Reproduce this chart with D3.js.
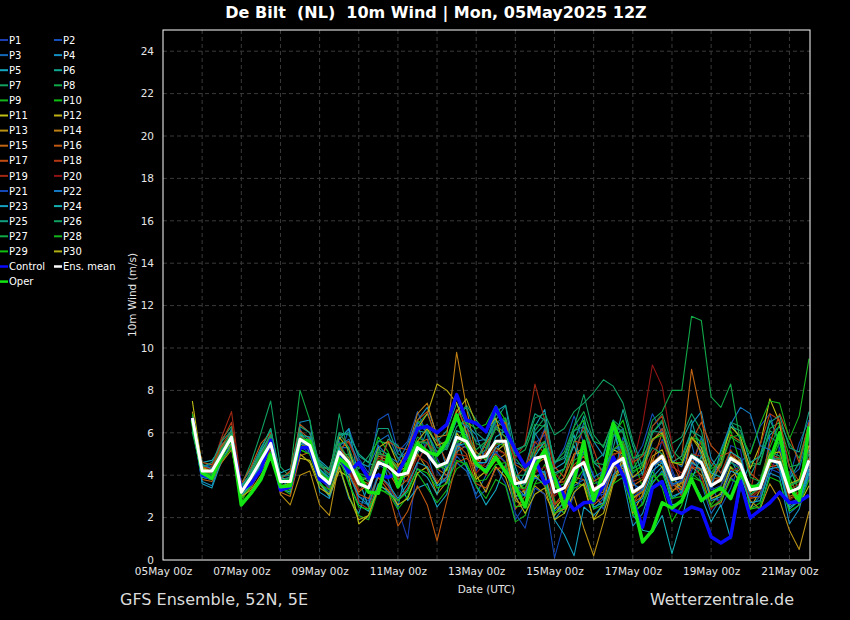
<!DOCTYPE html>
<html>
<head>
<meta charset="utf-8">
<script src="https://cdn.jsdelivr.net/npm/d3@7"></script>
<style>
  body { margin: 0; background: #000; }
  svg { display: block; font-family: "DejaVu Sans", sans-serif; }
</style>
</head>
<body>
<svg id="chart" width="850" height="620"></svg>
<script>
// run 05May2025 12Z, first step +6h, every 6h up to 21May 12Z
const firstStep = Date.UTC(2025, 4, 5, 18);
const stepHours = 6;
const yTicks = [0, 2, 4, 6, 8, 10, 12, 14, 16, 18, 20, 22, 24];

const p1 = [6.5,4.0,3.9,5.2,6.0,3.4,3.6,4.5,5.9,3.2,3.5,5.4,5.8,3.6,3.2,5.6, 4.2,3.0,2.8,4.1,3.5,2.4,1.0,4.6,5.6,4.8,3.9,5.2,6.1,4.2,5.3,6.4, 5.2,2.8,3.1,5.5,5.9,2.6,2.2,3.6,5.1,4.0,2.8,3.9,5.6,3.8,2.6,3.8, 5.7,4.3,3.1,4.2,5.3,2.9,2.8,5.4,5.2,2.6,2.4,4.0,5.3,3.6,2.7,3.9];
const p2 = [6.3,4.4,4.5,5.5,5.6,3.0,4.1,5.0,5.2,3.9,4.0,6.2,5.1,4.3,3.9,4.8, 6.2,4.8,4.1,6.6,6.9,5.1,5.6,7.0,5.9,4.2,3.6,4.9,4.4,2.9,3.3,4.4, 3.6,1.9,2.6,5.1,6.2,4.5,5.3,6.8,5.5,3.2,2.4,3.9,5.8,4.6,5.4,6.9, 6.0,4.1,3.1,4.4,5.8,3.6,2.5,3.4,4.6,5.1,6.3,6.9,5.2,3.9,5.5,6.6];
const p3 = [6.9,4.1,4.0,4.8,5.9,3.3,3.7,4.9,5.7,3.5,3.6,5.9,5.5,4.1,3.3,5.3, 5.3,2.8,2.6,5.6,5.9,4.8,5.1,6.4,5.0,3.5,3.8,4.6,4.2,3.1,4.0,4.8, 6.7,4.6,4.4,6.0,5.2,2.2,2.4,3.5,3.8,2.4,2.9,5.8,6.2,3.9,4.1,5.6, 6.2,4.7,4.4,5.5,3.6,2.2,2.9,3.9,3.4,2.5,3.0,5.8,5.5,3.9,4.3,5.9];
const p4 = [6.6,3.7,3.5,4.9,6.2,3.6,4.3,5.3,6.1,3.9,3.3,6.5,6.6,3.2,2.9,4.4, 2.9,2.2,3.6,5.4,3.8,2.5,4.6,6.6,7.2,5.9,4.3,5.0,6.4,5.9,4.6,7.0, 7.3,4.4,3.1,3.9,4.2,1.9,2.5,4.8,6.5,5.6,4.9,6.6,3.8,1.6,2.2,3.6, 4.2,2.9,3.2,6.4,7.0,4.8,4.1,4.8,3.8,1.9,2.4,4.1,3.9,1.7,2.4,4.1];
const p5 = [6.4,4.6,4.7,5.3,5.5,2.9,3.5,4.4,5.3,4.1,4.3,6.1,5.0,4.7,4.3,5.7, 6.2,3.8,2.5,3.2,4.6,3.9,2.8,3.4,3.6,2.5,3.1,5.7,4.4,3.5,2.6,3.3, 4.5,3.2,4.1,6.3,7.1,4.3,4.6,5.9,4.0,2.9,4.4,6.2,4.6,2.1,1.6,3.9, 4.4,2.6,2.7,3.8,3.0,1.8,2.6,1.0,3.4,4.6,4.9,5.9,6.3,4.4,3.2,5.2];
const p6 = [6.1,4.3,4.4,5.4,5.9,3.0,3.8,4.6,5.4,3.8,3.9,6.0,5.3,4.6,4.2,6.0, 5.9,5.0,4.6,4.3,5.7,5.4,4.3,5.0,6.1,5.6,6.1,7.4,6.4,4.7,5.6,6.9, 6.5,3.3,3.6,5.9,6.4,3.5,3.9,5.6,6.8,4.6,4.2,5.3,7.1,5.4,4.0,6.0, 6.5,4.8,5.6,6.6,4.9,3.5,4.6,6.5,5.7,4.0,4.9,6.6,5.6,3.8,4.6,6.4];
const p7 = [6.2,4.5,4.3,5.7,6.3,3.5,4.6,6.0,7.5,4.4,3.9,6.4,6.0,4.6,3.8,6.9, 4.9,4.3,4.9,5.6,5.5,4.8,4.4,6.4,6.9,5.7,5.3,6.7,7.3,6.6,6.0,6.9, 6.4,4.8,4.2,6.1,6.7,4.6,4.9,6.3,7.8,5.9,5.3,6.6,6.2,4.3,5.0,6.3, 6.9,5.5,5.8,6.9,6.1,4.1,4.8,6.5,6.3,4.6,4.5,6.1,5.8,4.4,4.5,6.2];
const p8 = [6.0,4.1,4.2,5.1,5.7,3.1,4.2,5.2,6.2,3.9,4.1,8.0,6.6,4.3,3.4,4.9, 5.0,4.1,3.9,5.1,4.8,4.3,4.6,5.8,5.5,4.9,5.4,6.6,6.0,5.2,5.6,6.5, 6.7,4.9,5.2,6.4,6.3,4.6,5.1,6.3,7.0,5.6,5.4,6.5,6.0,4.1,4.5,6.0, 6.6,5.2,4.7,6.1,5.5,3.8,4.4,5.8,5.5,4.4,4.6,6.2,6.5,5.5,4.8,6.4];
const p9 = [6.8,3.9,3.8,4.7,5.4,2.7,3.7,4.8,5.8,3.4,3.1,5.2,5.0,3.7,3.1,4.5, 3.0,2.1,1.9,3.3,3.2,2.4,3.0,4.1,3.4,2.7,3.3,4.3,4.6,3.5,2.9,3.8, 3.5,1.8,2.1,3.6,4.5,3.5,4.3,6.1,6.6,4.4,3.3,4.4,4.2,2.1,2.7,4.0, 3.6,2.4,2.8,4.1,3.7,2.6,3.2,4.4,4.0,3.0,3.8,5.3,6.4,4.9,3.1,4.6];
const p10 = [6.5,4.3,4.4,5.3,5.9,3.4,3.8,4.5,5.1,3.6,3.8,5.5,5.2,4.1,3.9,5.5, 5.6,4.6,4.4,5.8,5.1,3.9,4.9,6.6,6.1,4.6,4.2,5.4,6.5,6.2,6.4,7.3, 6.6,3.9,3.3,5.1,5.4,2.8,2.2,3.6,4.3,2.7,3.4,5.9,6.6,4.9,3.4,4.2, 3.4,1.8,2.6,4.0,4.3,3.9,4.9,6.1,4.5,2.4,2.7,4.4,5.6,3.9,2.9,4.3];
const p11 = [7.5,4.4,4.1,5.0,5.5,3.3,3.5,4.2,5.0,3.9,3.5,4.8,4.7,3.6,3.0,4.2, 3.9,1.7,2.1,3.5,3.3,2.6,2.9,4.1,4.4,3.6,4.3,6.0,5.4,3.8,4.2,5.1, 5.5,4.0,3.1,4.0,3.5,2.4,3.0,5.0,5.1,3.2,3.5,5.2,5.0,2.9,3.3,4.7, 4.4,3.2,3.7,5.8,5.3,3.9,4.6,6.3,5.8,4.3,5.4,7.6,6.5,3.4,2.6,3.5];
const p12 = [6.6,4.0,4.3,5.2,5.6,3.1,4.0,4.9,5.6,3.3,3.4,5.3,5.6,4.4,4.3,5.8, 5.2,3.7,3.9,5.3,5.6,4.5,4.8,6.2,6.9,8.3,8.0,7.4,6.0,4.0,3.2,4.4, 3.9,2.5,2.6,4.4,4.0,2.1,2.8,3.7,3.5,1.9,2.7,4.6,4.3,2.2,3.1,4.9, 5.2,3.9,3.4,5.0,4.6,2.9,3.1,4.4,3.6,2.4,3.3,4.9,4.5,2.6,2.9,4.3];
const p13 = [7.0,4.5,4.0,4.6,5.2,3.0,3.6,4.4,5.3,3.1,2.6,4.0,4.2,2.6,2.1,4.6, 4.1,3.2,3.6,4.9,4.7,3.8,4.0,5.0,4.3,3.1,3.7,5.3,5.8,5.1,4.7,5.3, 5.0,2.8,2.5,3.5,3.1,2.2,2.4,3.0,1.5,0.2,1.8,3.6,4.6,2.9,3.2,4.4, 4.8,3.6,3.3,4.4,4.0,2.5,2.7,3.9,4.3,2.8,2.4,3.6,2.8,1.4,0.5,2.3];
const p14 = [6.3,4.2,4.1,5.0,5.6,3.2,4.2,5.1,5.4,3.6,3.8,5.9,5.3,4.0,3.8,5.3, 4.8,3.8,3.6,5.0,4.9,4.4,5.2,6.9,7.4,5.8,5.9,9.8,7.2,4.9,4.1,4.7, 5.0,3.0,3.3,4.5,4.8,3.4,3.9,5.0,5.3,3.1,3.2,4.6,4.9,3.1,3.4,4.6, 5.0,3.5,3.6,4.7,4.2,3.0,3.5,4.6,4.7,3.2,3.6,4.9,4.7,2.9,3.1,4.5];
const p15 = [6.4,3.8,3.7,4.6,5.4,2.9,3.4,4.3,5.2,3.2,3.0,4.9,5.1,3.9,3.5,5.0, 4.5,3.3,3.5,4.7,4.2,3.4,3.8,5.5,5.7,4.3,4.0,5.1,5.4,4.6,5.5,6.2, 5.8,3.8,3.6,4.3,4.0,2.6,3.2,3.9,3.8,2.6,3.0,4.3,5.0,2.7,3.0,4.6, 6.0,4.6,4.9,9.0,6.8,3.8,3.9,4.9,4.6,2.9,3.0,4.4,4.5,3.0,3.2,4.8];
const p16 = [6.7,4.6,4.5,5.4,6.1,3.6,4.4,5.5,6.0,3.7,3.9,6.1,5.7,4.2,3.5,5.4, 4.6,3.1,2.9,3.9,3.3,1.6,2.3,3.5,2.6,0.9,2.8,4.6,4.8,4.4,5.1,6.3, 6.5,4.5,4.2,5.3,5.5,3.6,3.7,4.5,4.9,3.7,4.0,5.0,5.1,3.5,3.8,4.7, 4.6,3.3,3.4,4.4,4.3,3.7,4.5,5.9,5.6,4.1,3.7,5.0,4.8,3.4,3.8,5.2];
const p17 = [6.6,4.4,4.3,5.3,5.9,3.3,4.0,4.9,5.8,3.8,4.2,6.4,6.0,4.1,3.5,5.2, 5.6,4.5,3.9,4.4,5.6,5.3,5.2,6.6,7.0,5.6,4.6,5.5,5.0,3.6,3.4,4.3, 4.4,2.4,3.0,5.0,6.1,4.4,3.9,5.6,5.5,3.0,2.6,3.8,5.5,4.6,4.9,5.6, 6.2,4.6,3.7,5.6,6.5,5.4,4.9,5.1,4.7,3.0,3.4,5.5,6.9,5.8,4.6,6.5];
const p18 = [6.5,4.3,4.1,5.6,6.5,3.4,3.7,4.8,5.4,3.3,3.5,5.6,5.5,4.0,3.3,4.7, 4.4,2.7,2.4,4.0,3.5,2.8,3.4,4.6,5.5,5.1,5.6,7.1,6.3,4.7,4.0,5.0, 4.6,3.9,4.4,5.6,5.0,2.6,3.0,4.9,6.3,5.2,3.9,4.6,4.4,2.6,3.5,6.3, 6.8,3.7,3.0,4.5,5.6,4.6,4.1,5.2,4.3,3.2,5.4,6.9,6.6,4.4,3.7,5.4];
const p19 = [6.6,4.2,4.4,5.8,7.0,3.6,4.0,5.0,6.0,3.9,3.7,5.8,5.6,4.4,4.1,5.9, 5.5,4.5,4.0,4.8,4.6,3.9,3.7,4.9,4.6,3.7,3.9,5.0,4.9,4.1,4.6,5.4, 5.7,4.8,5.5,8.3,6.6,4.1,3.6,4.4,4.7,3.4,3.7,4.9,5.3,3.7,3.9,5.1, 5.6,4.4,4.1,5.0,4.9,3.6,3.9,5.0,4.3,2.9,3.3,5.0,4.6,3.3,3.6,5.1];
const p20 = [6.4,4.0,3.9,4.8,5.7,3.1,3.9,4.6,5.2,3.4,3.6,5.5,5.3,3.9,3.7,5.0, 4.3,3.3,3.6,5.0,4.8,4.0,4.2,5.3,5.2,4.4,4.5,5.7,5.6,4.6,4.4,5.2, 5.0,3.4,3.3,4.1,4.4,3.0,3.5,4.2,4.5,3.3,3.8,5.2,5.6,4.5,6.4,9.2, 8.2,5.4,3.7,4.5,3.9,2.4,2.9,4.2,4.4,3.3,3.5,4.6,4.2,2.8,3.2,4.4];
const p21 = [6.8,4.1,4.0,4.9,5.6,3.2,3.8,4.7,5.3,3.5,3.4,5.4,5.0,3.8,3.4,4.9, 4.4,3.6,3.5,4.5,4.2,3.7,4.2,5.4,5.2,4.5,4.4,5.5,5.3,4.5,4.6,5.1, 4.6,2.2,1.5,3.4,3.1,0.1,1.8,3.1,4.2,3.0,3.1,4.4,4.7,3.0,3.3,4.5, 4.7,3.5,3.8,5.0,4.5,3.3,3.5,4.6,4.4,3.0,3.0,4.3,4.1,2.7,2.9,4.2];
const p22 = [6.5,4.5,4.3,5.1,5.8,3.3,4.0,4.8,5.5,3.6,3.8,5.6,5.2,4.2,3.9,5.4, 5.7,4.6,4.4,5.4,4.9,4.6,5.5,6.5,6.0,5.1,5.4,6.6,6.3,5.6,5.7,6.6, 6.2,3.5,3.0,3.9,3.6,2.3,2.7,4.1,5.1,3.9,4.2,5.2,5.4,3.6,3.3,4.4, 4.7,3.6,3.7,4.8,4.5,3.4,5.2,6.4,7.2,6.9,5.4,5.2,4.3,2.2,2.6,4.5];
const p23 = [6.6,3.6,3.4,4.7,5.5,3.0,3.6,4.6,5.7,3.4,3.2,5.4,5.7,3.7,3.0,4.6, 4.0,3.0,2.6,4.0,3.6,2.9,3.6,4.6,4.4,3.5,3.9,5.4,5.5,4.4,4.3,5.3, 5.6,3.0,3.1,4.4,4.1,1.9,1.2,0.2,2.5,2.1,2.6,4.0,4.5,2.6,2.9,4.2, 4.6,3.0,3.2,4.6,4.3,2.8,3.0,4.2,4.0,2.7,2.8,4.3,4.4,2.5,2.8,4.3];
const p24 = [6.2,3.9,3.8,4.9,5.9,3.5,4.1,5.1,5.9,3.9,3.7,5.9,5.8,4.3,3.8,5.3, 3.6,2.6,2.3,3.6,3.2,2.8,3.3,4.3,3.9,3.1,4.6,6.1,5.9,4.6,4.6,5.8, 6.1,4.0,3.6,4.9,5.6,4.1,4.3,5.4,4.1,2.5,2.7,3.9,4.1,2.4,1.4,1.3, 2.1,0.3,1.9,3.8,4.9,4.1,3.9,5.1,4.8,3.3,3.7,5.0,4.3,2.4,2.8,4.1];
const p25 = [6.3,4.4,4.6,5.6,6.1,3.4,4.1,5.2,6.2,4.0,4.0,6.3,6.0,4.5,4.0,5.9, 6.0,4.9,4.6,6.2,6.2,5.0,4.8,6.1,6.0,4.9,5.3,6.8,7.2,6.0,5.6,6.6, 7.3,5.2,5.4,6.9,6.6,4.6,4.8,6.1,6.3,4.6,5.0,6.4,6.0,4.3,4.6,6.1, 6.0,4.6,4.9,6.1,5.8,4.4,5.1,6.3,6.1,4.6,4.9,6.5,6.8,5.3,5.1,7.0];
const p26 = [6.6,4.0,4.1,5.2,6.0,3.3,4.2,5.0,5.6,3.7,3.9,6.0,5.6,4.4,4.3,6.0, 5.3,4.0,3.7,5.0,4.9,4.3,4.8,6.1,6.4,5.3,5.2,6.3,6.6,5.5,5.3,6.3, 6.0,5.1,5.4,6.7,6.9,5.9,6.2,7.0,7.4,7.9,8.5,8.2,7.4,5.6,4.4,5.3, 5.0,3.7,3.9,5.0,4.7,3.6,3.7,4.6,4.3,3.1,3.4,4.7,4.8,3.5,3.8,5.2];
const p27 = [6.1,4.3,4.2,5.3,5.6,3.1,3.8,4.9,5.9,3.8,3.8,5.8,5.5,4.2,3.8,5.5, 4.7,3.9,3.9,5.2,5.0,4.3,4.5,5.6,5.5,4.5,4.6,5.7,5.8,4.9,5.2,6.2, 5.8,4.0,4.0,5.3,5.6,4.0,4.3,5.6,6.1,4.6,4.5,5.9,6.1,4.8,5.0,6.6, 7.0,8.0,8.0,11.5,11.3,7.7,7.2,8.3,5.5,3.9,3.7,5.1,4.9,3.5,3.7,5.0];
const p28 = [6.4,4.2,4.0,5.0,5.7,3.2,4.0,4.9,5.6,3.7,3.6,5.7,5.4,4.0,3.5,5.1, 4.6,3.5,3.4,4.7,4.6,4.0,4.1,5.2,5.0,4.3,4.5,5.6,5.6,4.8,4.8,5.5, 5.4,3.4,3.4,4.6,4.9,3.4,3.6,4.7,5.0,3.6,3.8,5.2,5.6,4.2,4.4,5.7, 5.9,4.6,4.6,5.8,5.6,4.3,4.6,5.8,5.9,5.0,6.4,7.5,7.4,5.7,6.8,9.5];
const p29 = [6.9,4.0,3.9,4.7,5.3,2.9,3.5,4.4,5.1,3.3,3.3,5.2,5.0,3.6,3.3,4.8, 3.6,2.5,2.4,3.4,3.1,2.8,3.2,4.3,4.1,3.4,3.6,4.7,4.5,3.7,3.8,4.5, 4.6,2.5,2.6,3.6,3.7,2.2,2.5,3.4,3.6,2.4,2.6,3.6,3.9,2.3,2.6,3.7, 4.1,2.9,3.0,3.9,3.7,2.5,2.8,3.8,3.6,2.4,2.5,3.9,3.7,2.3,2.6,3.8];
const p30 = [6.7,4.3,4.2,5.0,5.5,3.0,3.3,4.0,4.8,3.5,3.6,5.0,4.6,3.4,3.1,4.4, 3.0,1.9,2.1,3.4,4.9,4.2,4.4,5.6,6.2,5.4,5.6,7.0,7.6,6.4,6.1,6.7, 5.1,3.0,2.2,3.1,3.4,1.9,2.2,3.2,3.6,1.9,2.2,3.7,4.8,3.9,4.3,5.7, 6.0,4.6,4.5,5.8,5.1,3.6,3.7,4.9,4.6,3.2,3.6,5.0,5.1,3.6,3.8,5.4];

const control = [6.7,4.0,3.85,5.0,5.75,3.3,3.6,4.25,5.65,3.3,3.45,5.3,5.3,3.8,3.6,4.9, 4.15,4.6,3.85,4.0,3.9,4.1,5.0,6.2,6.3,6.0,6.4,7.8,6.6,6.45,6.05,7.2, 6.1,5.2,4.4,4.8,3.6,3.9,3.0,2.35,2.7,2.75,3.5,4.85,4.0,2.8,1.55,3.4, 3.7,2.4,2.2,2.5,2.35,1.1,0.8,1.1,3.7,2.0,2.35,2.7,3.2,2.7,2.75,3.05];
const ensMean = [6.7,4.2,4.2,5.0,5.8,3.2,3.9,4.7,5.5,3.7,3.7,5.7,5.4,4.0,3.6,5.1, 4.6,3.6,3.4,4.6,4.4,4.0,4.1,5.3,5.0,4.4,4.6,5.8,5.6,4.8,4.9,5.6, 5.6,3.6,3.7,4.8,4.9,3.2,3.4,4.3,4.6,3.3,3.6,4.5,4.8,3.2,3.5,4.5, 4.9,3.8,3.9,4.9,4.6,3.5,3.8,4.8,4.5,3.3,3.4,4.7,4.6,3.2,3.4,4.7];
const oper = [6.6,4.1,3.85,4.95,5.8,2.6,3.15,3.8,4.95,3.45,3.5,5.65,5.6,4.0,3.7,4.8, 4.4,4.0,3.2,3.15,4.95,3.45,4.55,5.5,5.1,4.95,5.6,6.85,5.5,4.55,4.15,4.85, 4.15,3.45,2.5,4.4,5.2,3.9,2.5,3.8,5.6,2.8,4.1,6.45,5.2,2.8,0.85,1.4, 2.7,2.45,2.8,3.8,2.8,3.15,3.4,2.9,4.1,3.45,3.5,4.7,6.0,3.45,2.8,6.3];

const memberColors = ["#1c3cb4","#1450b8","#1468b8","#1490c0","#14a8c0","#10a890","#10a060","#10a848","#14b41c","#10c010",
  "#c0c014","#c0b014","#b89014","#c08014","#c06414","#c05810","#c04c14","#b43814","#a02814","#901414",
  "#1448b8","#1478c0","#14a0c0","#14b0b4","#10a080","#10a060","#10a848","#14b41c","#10c010","#b0b014"];
const members = [p1,p2,p3,p4,p5,p6,p7,p8,p9,p10,p11,p12,p13,p14,p15,p16,p17,p18,p19,p20,
  p21,p22,p23,p24,p25,p26,p27,p28,p29,p30];

const svg = d3.select("#chart");
const W = 850, H = 620;
const plot = { left: 163, right: 810, top: 30, bottom: 560 };

svg.append("rect").attr("width", W).attr("height", H).attr("fill", "#000");

const x = d3.scaleUtc()
  .domain([new Date(Date.UTC(2025, 4, 5, 0)), new Date(Date.UTC(2025, 4, 21, 12))])
  .range([plot.left, plot.right - 1]);
const y = d3.scaleLinear().domain([0, 25]).range([plot.bottom, plot.top]);

const timeAt = (i) => new Date(firstStep + i * stepHours * 3600 * 1000);

svg.append("clipPath").attr("id", "clip")
  .append("rect")
  .attr("x", plot.left).attr("y", plot.top)
  .attr("width", plot.right - plot.left).attr("height", plot.bottom - plot.top);

// grid
const grid = svg.append("g").attr("stroke", "#3a3a3a").attr("stroke-dasharray", "4,3");
grid.selectAll("line.h")
  .data(yTicks.filter((d) => d > 0))
  .enter().append("line")
  .attr("x1", plot.left).attr("x2", plot.right)
  .attr("y1", (d) => y(d)).attr("y2", (d) => y(d));
grid.selectAll("line.v")
  .data(d3.utcDay.range(new Date(Date.UTC(2025, 4, 6)), new Date(Date.UTC(2025, 4, 22))))
  .enter().append("line")
  .attr("x1", (d) => x(d)).attr("x2", (d) => x(d))
  .attr("y1", plot.top).attr("y2", plot.bottom);

// lines
const line = d3.line().x((d, i) => x(timeAt(i))).y((d) => y(d));
const lines = svg.append("g").attr("clip-path", "url(#clip)").attr("fill", "none")
  .attr("stroke-linejoin", "round");

lines.selectAll("path.member")
  .data(members)
  .enter().append("path")
  .attr("class", "member")
  .attr("d", line)
  .attr("stroke", (d, i) => memberColors[i])
  .attr("stroke-width", 1.1);

lines.append("path").attr("d", line(control)).attr("stroke", "#0a0aff").attr("stroke-width", 3.5);
lines.append("path").attr("d", line(oper)).attr("stroke", "#14e614").attr("stroke-width", 3.5);
lines.append("path").attr("d", line(ensMean)).attr("stroke", "#ffffff").attr("stroke-width", 3);

// frame
svg.append("rect")
  .attr("x", plot.left).attr("y", plot.top)
  .attr("width", plot.right - plot.left).attr("height", plot.bottom - plot.top)
  .attr("fill", "none").attr("stroke", "#fff").attr("stroke-width", 1);

// axes
const yAxis = svg.append("g")
  .attr("transform", `translate(${plot.left},0)`)
  .call(d3.axisLeft(y).tickValues(yTicks).tickSize(0).tickPadding(9));
const xAxis = svg.append("g")
  .attr("transform", `translate(0,${plot.bottom})`)
  .call(d3.axisBottom(x)
    .tickValues(d3.utcDay.range(new Date(Date.UTC(2025, 4, 5)), new Date(Date.UTC(2025, 4, 22)), 2))
    .tickFormat(d3.utcFormat("%d%b %Hz"))
    .tickSize(0).tickPadding(8));
[yAxis, xAxis].forEach((a) => {
  a.select(".domain").remove();
  a.selectAll("text").attr("fill", "#e6e6e6")
    .attr("font-family", "DejaVu Sans, sans-serif").attr("font-size", 10.5);
});

svg.append("text")
  .attr("transform", `translate(136,${(plot.top + plot.bottom) / 2}) rotate(-90)`)
  .attr("text-anchor", "middle").attr("fill", "#e6e6e6").attr("font-size", 10.5)
  .text("10m Wind (m/s)");
svg.append("text")
  .attr("x", (plot.left + plot.right) / 2).attr("y", 593)
  .attr("text-anchor", "middle").attr("fill", "#e6e6e6").attr("font-size", 10.5)
  .text("Date (UTC)");

svg.append("text")
  .attr("x", 436).attr("y", 18)
  .attr("text-anchor", "middle").attr("fill", "#fff")
  .attr("font-size", 16).attr("font-weight", "bold")
  .text("De Bilt  (NL)  10m Wind | Mon, 05May2025 12Z")
  .style("white-space", "pre");

svg.append("text")
  .attr("x", 120).attr("y", 605)
  .attr("fill", "#dcdcdc").attr("font-size", 16)
  .text("GFS Ensemble, 52N, 5E");
svg.append("text")
  .attr("x", 794).attr("y", 605)
  .attr("text-anchor", "end").attr("fill", "#dcdcdc").attr("font-size", 16)
  .text("Wetterzentrale.de");

// legend
const legendItems = members.map((d, i) => ({ name: "P" + (i + 1), color: memberColors[i], w: 2 }))
  .concat([
    { name: "Control", color: "#0a0aff", w: 2.5 },
    { name: "Ens. mean", color: "#ffffff", w: 2.5 },
    { name: "Oper", color: "#14e614", w: 2.5 }
  ]);
const legend = svg.append("g").attr("font-size", 10);
const item = legend.selectAll("g")
  .data(legendItems)
  .enter().append("g")
  .attr("transform", (d, i) => `translate(${(i % 2) * 54},${40 + Math.floor(i / 2) * 15.1})`);
item.append("line")
  .attr("x1", 0).attr("x2", 8)
  .attr("stroke", (d) => d.color).attr("stroke-width", (d) => d.w);
item.append("text")
  .attr("x", 9).attr("y", 3.6)
  .attr("fill", "#fff")
  .text((d) => d.name);
</script>
</body>
</html>
